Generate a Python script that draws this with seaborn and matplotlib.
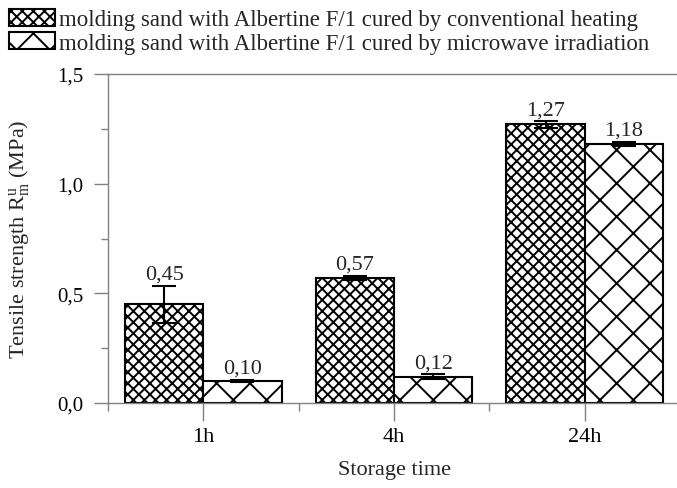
import numpy as np
import pandas as pd
import matplotlib
matplotlib.use("Agg")
import matplotlib.pyplot as plt
from matplotlib.ticker import MultipleLocator, FixedLocator, FuncFormatter
import seaborn as sns

# ---------------- data ----------------
times = ["1h", "4h", "24h"]
series = [
    "molding sand with Albertine F/1 cured by conventional heating",
    "molding sand with Albertine F/1 cured by microwave irradiation",
]
conv = [0.45, 0.57, 1.27]
conv_err = [0.085, 0.010, 0.015]
micro = [0.10, 0.12, 1.18]
micro_err = [0.005, 0.010, 0.010]
yticks = [0.0, 0.5, 1.0, 1.5]

# ---------------- style ----------------
sns.set_theme(style="ticks")
plt.rcParams["font.family"] = ["Liberation Serif", "DejaVu Serif"]
plt.rcParams["mathtext.fontset"] = "custom"
plt.rcParams["mathtext.rm"] = "Liberation Serif"
plt.rcParams["mathtext.it"] = "Liberation Serif:italic"
plt.rcParams["hatch.linewidth"] = 1.4
plt.rcParams["hatch.color"] = "black"

grey = "#808080"

df = pd.DataFrame({
    "time": times * 2,
    "series": [series[0]] * 3 + [series[1]] * 3,
    "value": conv + micro,
})

fig = plt.figure(figsize=(6.77, 4.89), dpi=100)
ax = fig.add_axes([108 / 677, 85 / 489, 572 / 677, 329 / 489])

sns.barplot(data=df, x="time", y="value", hue="series", order=times,
            hue_order=series, palette=["white", "white"], edgecolor="black",
            linewidth=1.5, width=0.82, errorbar=None, legend=False, ax=ax,
            saturation=1)

hatches = ["xxx", "x"]
vals = [conv, micro]
errs = [conv_err, micro_err]
for cont, h, v, e in zip(ax.containers, hatches, vals, errs):
    for bar, val, err in zip(cont, v, e):
        bar.set_hatch(h)
        xc = bar.get_x() + bar.get_width() / 2
        ax.errorbar(xc, val, yerr=err, fmt="none", ecolor="black",
                    elinewidth=1.5, capsize=8.5, capthick=1.5, zorder=5)
        ax.annotate(f"{val:.2f}".replace(".", ","), (xc, val + err),
                    xytext=(0, 1.5), textcoords="offset points",
                    ha="center", va="bottom", fontsize=16)

ax.set_xlim(-0.5, 2.5)
ax.set_ylim(0, 1.5)
ax.yaxis.set_major_locator(FixedLocator(yticks))
ax.yaxis.set_minor_locator(MultipleLocator(0.25))
ax.yaxis.set_major_formatter(FuncFormatter(lambda v, p: f"{v:.1f}".replace(".", ",")))
ax.xaxis.set_minor_locator(FixedLocator([-0.5, 0.5, 1.5, 2.5]))

for s in ["left", "bottom", "top"]:
    ax.spines[s].set_color(grey)
    ax.spines[s].set_linewidth(1.0)
ax.spines["right"].set_visible(False)

ax.tick_params(axis="both", which="both", color=grey, width=1.0,
               labelcolor="black")
ax.tick_params(axis="y", which="major", length=10, pad=8, labelsize=15)
ax.tick_params(axis="y", which="minor", length=5)
ax.tick_params(axis="x", which="major", length=13, pad=4, labelsize=16)
ax.tick_params(axis="x", which="minor", length=6)

ax.set_xlabel("Storage time", fontsize=16)
ax.set_ylabel(r"Tensile strength $\mathregular{R^{u}_{m}}$ (MPa)", fontsize=16)
ax.yaxis.set_label_coords(-0.135, 0.5)
ax.xaxis.set_label_coords(0.5, -0.174)
ax.xaxis.label.set_va("top")

fig.legend(handles=ax.containers, labels=series, loc="upper left",
           bbox_to_anchor=(0.014, 0.980), frameon=False, fontsize=16.5,
           handlelength=2.0, handleheight=0.77, handletextpad=0.15,
           labelspacing=0.08, borderpad=0, borderaxespad=0)

fig.savefig("out.png", dpi=100)
